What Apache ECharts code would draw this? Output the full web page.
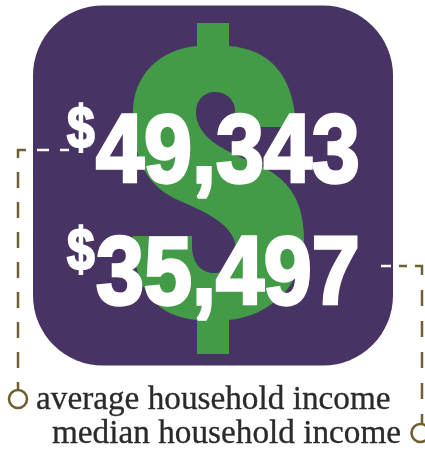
<!DOCTYPE html>
<html><head><meta charset="utf-8">
<style>html,body{margin:0;padding:0;background:#fff}#c{width:425px;height:449px}</style>
<script src="https://cdn.jsdelivr.net/npm/echarts@6/dist/echarts.min.js"></script>
</head><body><div id="c"></div>
<script>
const amounts = ["49,343", "35,497"];
const currency = "$";
const labels = ["average household income", "median household income"];
const purple = "#483365", green = "#439a47", olive = "#6f5f32", ink = "#2b2a2b";
const dollarPath = "M197 23 L229 23 L229 46 C268 49 294 73 296 127 L235 127 L235 108 C233 98 225 92 215 92 C204 92 196 100 196 112 C196 136 222 150 250 161 C285 175 304 196 304 240 C304 285 270 316 229 320 L229 354 L197 354 L197 320 C160 317 133 293 133 236 L192 236 L192 248 C193 263 201 273 214 273 C228 273 236 264 236 250 C236 226 208 213 180 201 C150 188 133 165 133 112 C133 75 160 49 197 46 Z";
echarts.graphic.registerShape("dollar", echarts.graphic.extendPath(dollarPath, {}));
const big = (t, x, y) => ({type:"text", x, y, scaleX:0.98, scaleY:1.1, z:5, style:{text:t, x:0, y:0, fill:"#fff", stroke:"#fff", lineWidth:3, lineJoin:"miter", font:"bold 88px 'Liberation Sans'", textAlign:"left", textVerticalAlign:"middle"}});
const sup = (t, x, y) => ({type:"text", x, y, scaleX:0.92, scaleY:1.08, z:5, style:{text:t, x:0, y:0, fill:"#fff", stroke:"#fff", lineWidth:2, font:"bold 54px 'Liberation Sans'", textAlign:"left", textVerticalAlign:"middle"}});
const line = (pts, color, dash) => ({type:"polyline", z:4, shape:{points:pts}, style:{stroke:color, lineWidth:2.5, fill:null, lineDash:dash||null}});
const ring = (x, y) => ({type:"circle", z:4, shape:{cx:x, cy:y, r:9}, style:{fill:"#fff", stroke:olive, lineWidth:2.6}});
const cap = (t, x, y) => ({type:"text", x, y, z:5, style:{text:t, x:0, y:0, fill:ink, stroke:ink, lineWidth:0.3, font:"33.25px 'Liberation Serif'", textAlign:"left", textVerticalAlign:"middle"}});
const chart = echarts.init(document.getElementById("c"), null, {renderer:"canvas"});
chart.setOption({
  animation:false,
  graphic:[
    {type:"rect", z:1, shape:{x:33, y:5.5, width:360, height:360, r:70}, style:{fill:purple}},
    {type:"dollar", z:2, style:{fill:green}},
    sup(currency, 67, 132), big(amounts[0], 96, 155),
    sup(currency, 67, 254), big(amounts[1], 96, 277),
    line([[37,150],[49,150]], "#fff"), line([[60,150],[69,150]], "#fff"),
    line([[26,150],[18,150],[18,390]], olive, [16,14]),
    line([[381,266],[391,266]], "#fff"), line([[399,266],[407,266]], olive),
    line([[415,266],[422,266],[422,424]], olive, [16,15]),
    ring(18,399), ring(420.5,433),
    cap(labels[0], 36, 400), cap(labels[1], 52, 434)
  ]
});
</script></body></html>
